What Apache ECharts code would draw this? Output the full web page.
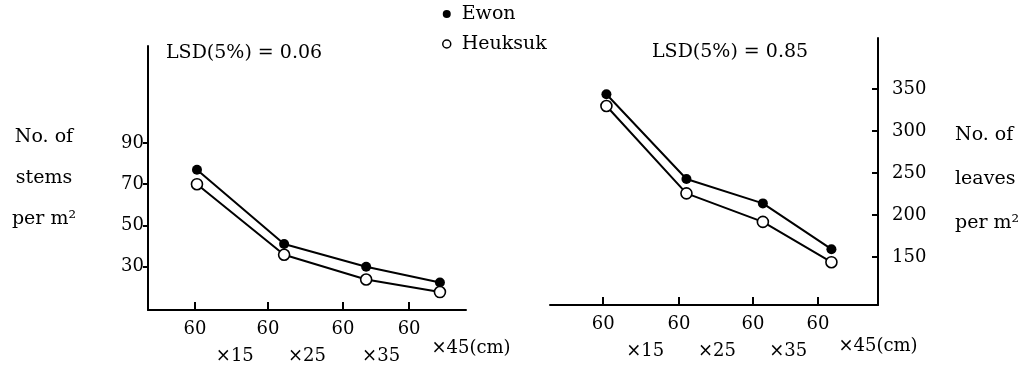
<!DOCTYPE html>
<html>
<head>
<meta charset="utf-8">
<script src="https://cdn.jsdelivr.net/npm/echarts@6/dist/echarts.min.js"></script>
<style>
  html, body { margin: 0; background: #fff; }
  #chart { width: 1025px; height: 375px; }
</style>
</head>
<body>
<div id="chart"></div>
<script>
var seriesNames = ['Ewon', 'Heuksuk']
var rowLabels = ['60', '60', '60', '60']
var spacingLabels = ['×15', '×25', '×35']
var lastSpacing = '×45(cm)'

// left panel: no. of stems per m2
var stemTicks = [30, 50, 70, 90]
var stemTickX = [14.8, 37.7, 61.3, 82.1]
var stemSubX = [27.3, 50, 73.3]
var stemX = [15.4, 42.8, 68.6, 91.8]
var stemEwon = [77, 41, 30, 22.3]
var stemHeuksuk = [70, 35.8, 23.8, 17.7]

// right panel: no. of leaves per m2
var leafTicks = [150, 200, 250, 300, 350]
var leafTickX = [16.2, 39.3, 61.9, 81.7]
var leafSubX = [29, 50.9, 72.6]
var leafX = [17.2, 41.6, 64.9, 85.8]
var leafEwon = [344, 243, 214, 159.5]
var leafHeuksuk = [330, 226, 192, 144]

var font = 'DejaVu Serif'
var black = '#000'

var pairs = function (xs, ys) {
  return xs.map(function (x, i) { return [x, ys[i]] })
}

var mainX = function (gridIndex, ticks) {
  return {
    type: 'value', gridIndex: gridIndex, min: 0, max: 100, position: 'bottom',
    axisLine: { onZero: false, lineStyle: { color: black, width: 2 } },
    axisTick: { inside: true, length: 8, customValues: ticks, lineStyle: { color: black, width: 2 } },
    axisLabel: {
      customValues: ticks, margin: 10, color: black, fontFamily: font, fontSize: 18,
      formatter: function (v) { return rowLabels[ticks.indexOf(v)] }
    },
    splitLine: { show: false }
  }
}

// second row of x labels, the last one sits at the axis end
var subX = function (gridIndex, subs, gap, drop) {
  return {
    type: 'value', gridIndex: gridIndex, min: 0, max: 100, position: 'bottom',
    axisLine: { show: false, onZero: false },
    axisTick: { show: false },
    splitLine: { show: false },
    axisLabel: {
      customValues: subs, margin: 37, color: black, fontFamily: font, fontSize: 18,
      formatter: function (v) { return spacingLabels[subs.indexOf(v)] }
    },
    name: lastSpacing, nameLocation: 'end', nameGap: gap,
    nameTextStyle: {
      align: 'center', verticalAlign: 'top', lineHeight: drop,
      color: black, fontFamily: font, fontSize: 18
    }
  }
}

var line = function (name, xi, data) {
  var open = name === 'Heuksuk'
  return {
    name: name, type: 'line', xAxisIndex: xi, yAxisIndex: xi >= 2 ? 1 : 0,
    data: data, symbol: 'circle', symbolSize: open ? 11 : 10,
    lineStyle: { color: black, width: 2 },
    itemStyle: open ? { color: '#fff', borderColor: black, borderWidth: 1.6 } : { color: black },
    z: open ? 3 : 2
  }
}

var chart = echarts.init(document.getElementById('chart'))
chart.setOption({
  animation: false,
  backgroundColor: '#fff',
  title: [
    { text: 'LSD(5%) = 0.06', left: 166, top: 44, padding: 0,
      textStyle: { fontFamily: font, fontSize: 19, fontWeight: 'normal', color: black } },
    { text: 'LSD(5%) = 0.85', left: 652, top: 43, padding: 0,
      textStyle: { fontFamily: font, fontSize: 19, fontWeight: 'normal', color: black } }
  ],
  legend: {
    orient: 'vertical', left: 442, top: 4, padding: 0,
    itemWidth: 8, itemHeight: 8, itemGap: 10, icon: 'circle',
    textStyle: { fontFamily: font, fontSize: 19, color: black, lineHeight: 20, padding: [0, 0, 0, 6] },
    data: [
      { name: seriesNames[0], itemStyle: { color: black } },
      { name: seriesNames[1], itemStyle: { color: '#fff', borderColor: black, borderWidth: 1.5 } }
    ]
  },
  graphic: [{
    type: 'text', left: 955, top: 113,
    style: {
      text: 'No. of\nleaves\nper m²', align: 'center', lineHeight: 44,
      fill: black, font: '19px "DejaVu Serif"'
    }
  }],
  grid: [
    { left: 148, right: 559, top: 46, bottom: 65, outerBoundsMode: 'none', containLabel: false },
    { left: 550, right: 147, top: 38, bottom: 70, outerBoundsMode: 'none', containLabel: false }
  ],
  xAxis: [
    mainX(0, stemTickX),
    subX(0, stemSubX, 5, 76),
    mainX(1, leafTickX),
    subX(1, leafSubX, 0, 82)
  ],
  yAxis: [
    {
      type: 'value', gridIndex: 0, min: 9, max: 137, position: 'left',
      axisLine: { show: true, onZero: false, lineStyle: { color: black, width: 2 } },
      axisTick: { show: true, length: 5, customValues: stemTicks, lineStyle: { color: black, width: 2 } },
      axisLabel: { customValues: stemTicks, margin: 4, color: black, fontFamily: font, fontSize: 18 },
      splitLine: { show: false },
      name: 'No. of\nstems\nper m²', nameLocation: 'middle', nameRotate: 0, nameGap: 104,
      nameTextStyle: { align: 'center', verticalAlign: 'middle', lineHeight: 41, color: black, fontFamily: font, fontSize: 19 }
    },
    {
      type: 'value', gridIndex: 1, min: 93, max: 411, position: 'right',
      axisLine: { show: true, onZero: false, lineStyle: { color: black, width: 2 } },
      axisTick: { show: true, inside: true, length: 6, customValues: leafTicks, lineStyle: { color: black, width: 2 } },
      axisLabel: { customValues: leafTicks, margin: 14, color: black, fontFamily: font, fontSize: 18 },
      splitLine: { show: false }
    }
  ],
  series: [
    line(seriesNames[0], 0, pairs(stemX, stemEwon)),
    line(seriesNames[1], 0, pairs(stemX, stemHeuksuk)),
    line(seriesNames[0], 2, pairs(leafX, leafEwon)),
    line(seriesNames[1], 2, pairs(leafX, leafHeuksuk))
  ]
})
</script>
</body>
</html>
